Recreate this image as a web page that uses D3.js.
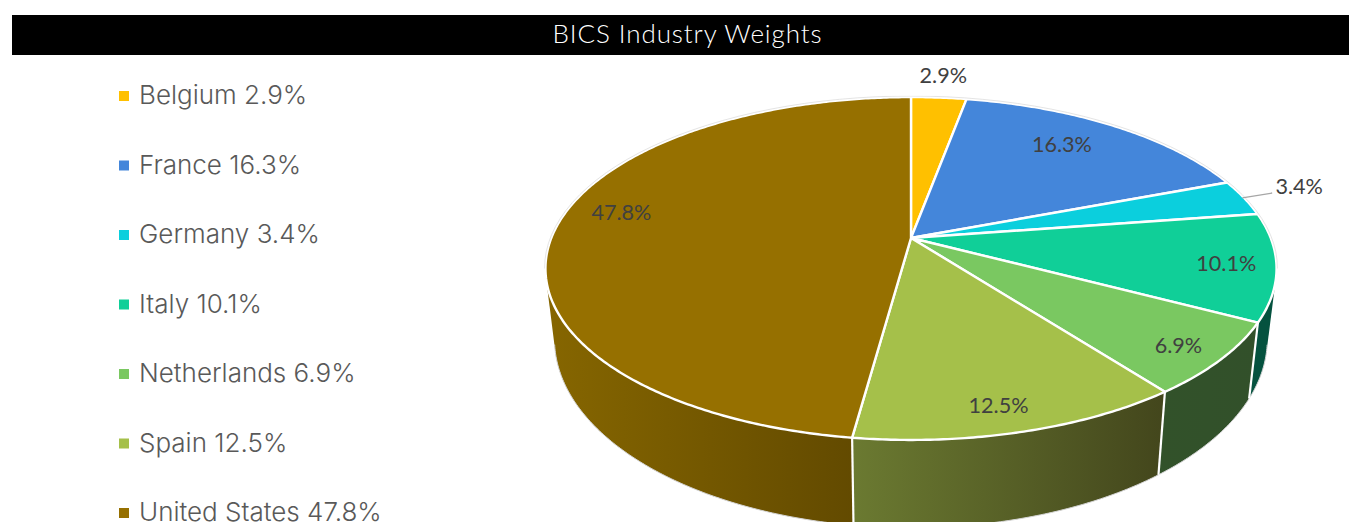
<!DOCTYPE html>
<html>
  <head>
    <title>BICS Industry Weights</title>
    <style>
      body,
      html {
        margin: 0;
        background: #fff;
      }

      #svg {
        display: block;
      }
    </style>
  </head>
  <body>
    <svg id="svg" width="1349" height="522"></svg>

    <script src="https://cdn.jsdelivr.net/npm/d3@7"></script>
    <script>
      const countries = ['Belgium', 'France', 'Germany', 'Italy', 'Netherlands', 'Spain', 'United States'];
      const weights = [2.9, 16.3, 3.4, 10.1, 6.9, 12.5, 47.8];
      const topColors = ['#ffc000', '#4486da', '#0bcfdd', '#10cf98', '#7ac861', '#a5c04a', '#967000'];
      const wallLeftColors = ['#806000', '#24508a', '#067c85', '#05523f', '#32522a', '#6b7a31', '#866600'];
      const wallRightColors = ['#806000', '#24508a', '#067c85', '#05523f', '#32502a', '#43461c', '#5c4500'];

      // label placement in disc units: fraction of radius, and degrees off the slice middle
      const labelRadius = [1.195, 0.784, 1.19, 0.866, 0.882, 0.879, 0.843];
      const labelTurn = [0, -3.3, -1.5, 0, 0.6, 1.2, 7];

      const svg = d3.select('#svg');
      const toRad = Math.PI / 180;

      // tilted disc with perspective, back half is squashed more than the front
      const cx = 911;
      const cy = 238;
      const radiusX = 359.7;
      const radiusY = 166;
      const tilt = 0.178;

      const project = (angle, r = 1) => {
        const u = Math.sin(angle) * r;
        const v = -Math.cos(angle) * r;
        const w = 1 - tilt * v;
        return [cx + (radiusX * u) / w, cy + (radiusY * v) / w];
      };

      // the lower rim of the pie, read from where the wall edges end
      const drop = ([x, y]) => [cx - 4 + (x - cx + 4) * 0.975, y + 76 + (y - 322) * 0.1];

      const pie = d3
        .pie()
        .sort(null)
        .value((d) => d)(weights);

      const arcPoints = (d) => {
        const n = Math.ceil((d.endAngle - d.startAngle) / 0.01);
        return d3.range(n + 1).map((i) => d.startAngle + ((d.endAngle - d.startAngle) * i) / n);
      };

      const line = d3.line();

      const defs = svg.append('defs');
      pie.forEach((d, i) => {
        const grad = defs.append('linearGradient').attr('id', `wall${i}`);
        grad.append('stop').attr('offset', 0).attr('stop-color', wallLeftColors[i]);
        grad.append('stop').attr('offset', 1).attr('stop-color', wallRightColors[i]);
      });

      // title bar
      svg.append('rect').attr('x', 12).attr('y', 15).attr('width', 1337).attr('height', 40).attr('fill', '#000');
      svg
        .append('text')
        .attr('x', 687.5)
        .attr('y', 43)
        .attr('text-anchor', 'middle')
        .attr('fill', '#fff')
        .style('font', '300 26px Lato')
        .style('letter-spacing', '0.9px')
        .text('BICS Industry Weights');

      // legend
      const legendY = d3.scalePoint().domain(countries).range([96, 513]);
      const legend = svg
        .append('g')
        .selectAll('g')
        .data(countries)
        .enter()
        .append('g')
        .attr('transform', (d) => `translate(119, ${legendY(d)})`);
      legend
        .append('rect')
        .attr('y', -5)
        .attr('width', 10)
        .attr('height', 10)
        .attr('fill', (d, i) => topColors[i]);
      legend
        .append('text')
        .attr('x', 20)
        .attr('y', 8)
        .attr('fill', '#595959')
        .style('font', '300 26px Inter')
        .text((d, i) => `${d} ${weights[i].toFixed(1)}%`);

      // side walls, the hull also fills the tangent from top rim to lower rim;
      // slices overlap so the big one goes first and Spain last
      const walls = svg.append('g');
      const wallOrder = [6, 0, 1, 2, 3, 4, 5];
      wallOrder.forEach((i) => {
        const d = pie[i];
        const angles = arcPoints(d);
        const top = angles.map((a) => project(a));
        const bottom = top.map(drop);
        walls
          .append('path')
          .attr('d', line(d3.polygonHull(top.concat(bottom))) + 'Z')
          .attr('fill', `url(#wall${i})`);
        // thin rim only on the part of the lower edge that faces the viewer
        const rim = angles.filter((a) => -Math.cos(a) > 0.2).map((a) => drop(project(a)));
        if (rim.length > 1) {
          walls
            .append('path')
            .attr('d', line(rim))
            .attr('fill', 'none')
            .attr('stroke', '#d4d4d4')
            .attr('stroke-width', 1);
        }
      });
      pie.forEach((d) => {
        const p = project(d.startAngle);
        walls
          .append('path')
          .attr('d', line([p, drop(p)]))
          .attr('stroke', '#fff')
          .attr('stroke-width', 2.2);
      });

      // top face
      const faces = svg.append('g');
      pie.forEach((d, i) => {
        const pts = [[cx, cy]].concat(arcPoints(d).map((a) => project(a)));
        faces
          .append('path')
          .attr('d', line(pts) + 'Z')
          .attr('fill', topColors[i])
          .attr('stroke', '#fff')
          .attr('stroke-width', 2.4)
          .attr('stroke-linejoin', 'round');
      });
      faces
        .append('ellipse')
        .attr('cx', cx)
        .attr('cy', 268.5)
        .attr('rx', 366.5)
        .attr('ry', 172.5)
        .attr('fill', 'none')
        .attr('stroke', '#d9d9d9')
        .attr('stroke-width', 0.7)
        .attr('clip-path', 'inset(0 0 50% 0)');

      // leader for the small Germany slice
      const mid = (d) => (d.startAngle + d.endAngle) / 2;
      const labelAt = (d, i) => project(mid(d) + labelTurn[i] * toRad, labelRadius[i]);
      const germany = labelAt(pie[2], 2);
      svg
        .append('path')
        .attr('d', line([project(mid(pie[2]), 0.995), [germany[0] - 27, germany[1] + 7]]))
        .attr('stroke', '#a6a6a6')
        .attr('stroke-width', 1.3)
        .attr('fill', 'none');

      // data labels
      svg
        .append('g')
        .selectAll('text')
        .data(pie)
        .enter()
        .append('text')
        .attr('x', (d, i) => labelAt(d, i)[0])
        .attr('y', (d, i) => labelAt(d, i)[1] + 8)
        .attr('text-anchor', 'middle')
        .attr('fill', '#404040')
        .style('font', '21.6px Lato')
        .text((d) => `${d.value.toFixed(1)}%`);
    </script>
  </body>
</html>
